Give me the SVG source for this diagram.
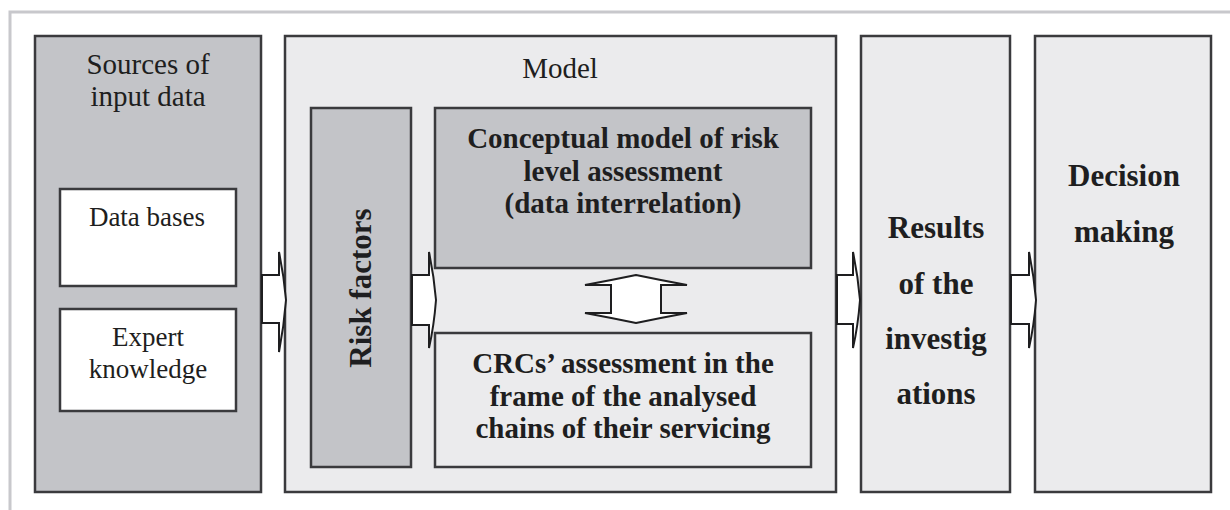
<svg xmlns="http://www.w3.org/2000/svg" width="1230" height="510" viewBox="0 0 1230 510">
<style>
.box{stroke:#3a3a3d;stroke-width:2.5}
.dark{fill:#c3c4c8}
.light{fill:#ebebed}
.white{fill:#ffffff}
.t{font-family:'Liberation Serif','DejaVu Serif',serif;fill:#1e1e20;text-anchor:middle}
.r{font-size:29px}
.s{font-size:27px}
.b{font-size:29px;font-weight:bold}
.bb{font-size:31px;font-weight:bold}
.arr{fill:#ffffff;stroke:#1e1e20;stroke-width:2;stroke-linejoin:miter}
</style>
<rect x="0" y="0" width="1230" height="510" fill="#ffffff"/>
<path d="M10 510 V12 H1230" fill="none" stroke="#c8c8cc" stroke-width="3"/>
<g id="sources">
<rect class="box dark" x="35" y="36" width="226" height="456"/>
<text class="t r" x="148" y="74">Sources of</text>
<text class="t r" x="148" y="106">input data</text>
</g>
<g id="databases">
<rect class="box white" x="60" y="189" width="176" height="97"/>
<text class="t s" x="147" y="226">Data bases</text>
</g>
<g id="expert">
<rect class="box white" x="60" y="309" width="176" height="102"/>
<text class="t s" x="148" y="346">Expert</text>
<text class="t s" x="148" y="378">knowledge</text>
</g>
<g id="model">
<rect class="box light" x="285" y="36" width="551" height="456"/>
<text class="t r" x="560" y="78">Model</text>
</g>
<g id="riskfactors">
<rect class="box dark" x="311" y="108" width="100" height="359"/>
<text class="t bb" font-size="33" transform="translate(371 288) rotate(-90)">Risk factors</text>
</g>
<g id="conceptual">
<rect class="box dark" x="435" y="108" width="376" height="160"/>
<text class="t b" x="623" y="148">Conceptual model of risk</text>
<text class="t b" x="623" y="181">level assessment</text>
<text class="t b" x="623" y="213">(data interrelation)</text>
</g>
<g id="crcs">
<rect class="box light" x="435" y="333" width="376" height="134"/>
<text class="t b" x="623" y="373">CRCs’ assessment in the</text>
<text class="t b" x="623" y="406">frame of the analysed</text>
<text class="t b" x="623" y="438">chains of their servicing</text>
</g>
<g id="results">
<rect class="box light" x="861" y="36" width="149" height="456"/>
<text class="t bb" x="936" y="238">Results</text>
<text class="t bb" x="936" y="294">of the</text>
<text class="t bb" x="936" y="349">investig</text>
<text class="t bb" x="936" y="404">ations</text>
</g>
<g id="decision">
<rect class="box light" x="1035" y="36" width="176" height="456"/>
<text class="t bb" x="1124" y="186">Decision</text>
<text class="t bb" x="1124" y="242">making</text>
</g>
<g id="connectors">
<path class="arr" d="M262 275 H279 V252 Q284 276 286 300 Q284 326 279 352 V323 H262 Z"/>
<path class="arr" d="M412 275 H429 V252 Q434 276 436 300 Q434 326 429 348 V325 H412 Z"/>
<path class="arr" d="M837 275 H853 V252 Q858 276 860 300 Q858 326 853 348 V324 H837 Z"/>
<path class="arr" d="M1011 275 H1029 V252 Q1034 276 1036 300 Q1034 326 1029 348 V324 H1011 Z"/>
<path class="arr" d="M636 275 Q660 280 687 285 H661 V313 H687 Q660 318 636 323 Q612 318 585 313 H611 V285 H585 Q612 280 636 275 Z"/>
</g>
</svg>
